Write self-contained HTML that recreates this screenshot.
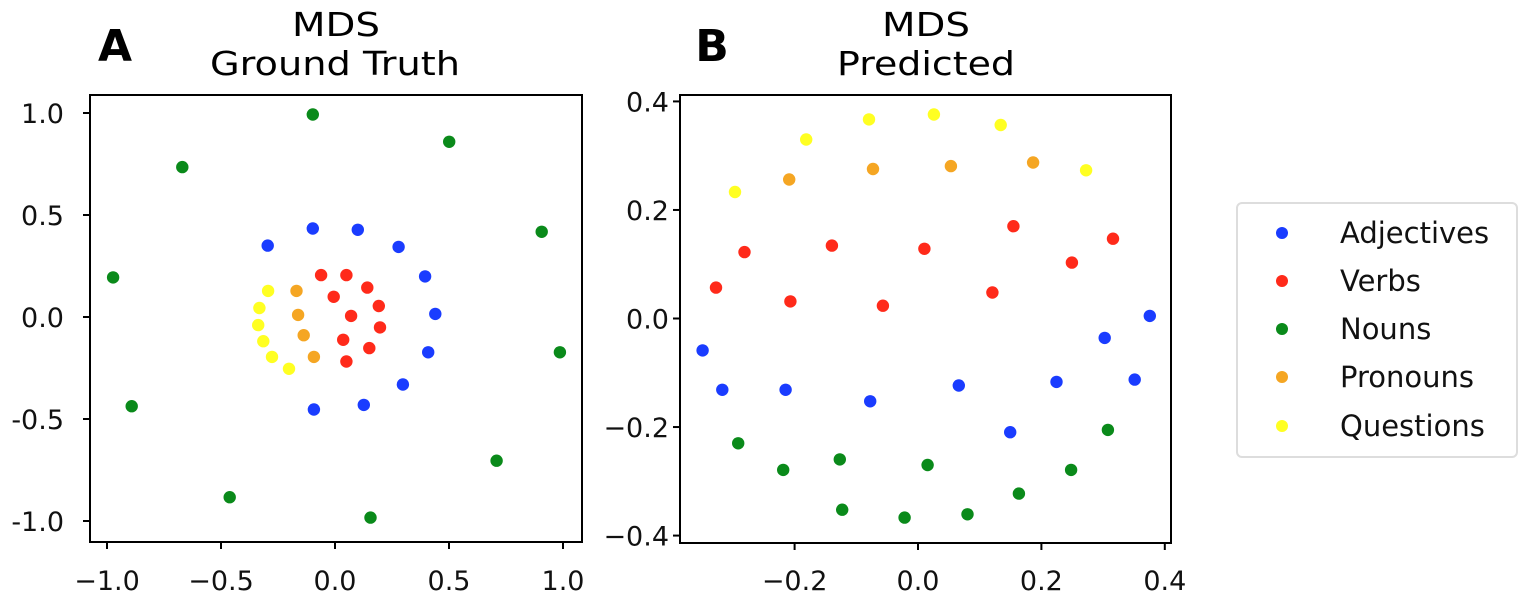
<!DOCTYPE html>
<html><head><meta charset="utf-8"><style>
html,body{margin:0;padding:0;background:#fff}
svg{display:block;font-family:"DejaVu Sans","Liberation Sans",sans-serif}
</style></head><body>
<svg id="s" width="1522" height="595" viewBox="0 0 1522 595" xmlns="http://www.w3.org/2000/svg">
<rect width="1522" height="595" fill="#fff"/>
<text x="115" y="61" font-size="44" font-weight="bold" text-anchor="middle">A</text>
<text x="712" y="61" font-size="44" font-weight="bold" text-anchor="middle">B</text>
<text x="336" y="36" font-size="33" text-anchor="middle" textLength="88" lengthAdjust="spacingAndGlyphs">MDS</text>
<text x="335" y="75" font-size="33" text-anchor="middle" textLength="250" lengthAdjust="spacingAndGlyphs">Ground Truth</text>
<text x="926" y="36" font-size="33" text-anchor="middle" textLength="88" lengthAdjust="spacingAndGlyphs">MDS</text>
<text x="926" y="75" font-size="33" text-anchor="middle" textLength="178" lengthAdjust="spacingAndGlyphs">Predicted</text>
<g fill="none" stroke="#000" stroke-width="2">
<rect x="90" y="95" width="492" height="447"/>
<rect x="680" y="95" width="491" height="448"/>
</g>
<g id="ticks" stroke="#000" stroke-width="2"></g>
<g id="labels" font-size="27" fill="#111"></g>
<g id="pts"></g>
<rect x="1237" y="203" width="280" height="254" rx="5" fill="#fff" stroke="#ddd" stroke-width="2"/>
<g font-size="29" fill="#111">
<circle cx="1282" cy="233" r="6" fill="#1a3cff"/><text x="1340" y="243">Adjectives</text>
<circle cx="1282" cy="281" r="6" fill="#ff2a1a"/><text x="1340" y="291">Verbs</text>
<circle cx="1282" cy="329" r="6" fill="#0a8a1a"/><text x="1340" y="339">Nouns</text>
<circle cx="1282" cy="377" r="6" fill="#f5a623"/><text x="1340" y="387">Pronouns</text>
<circle cx="1282" cy="426" r="6" fill="#ffff22"/><text x="1340" y="436">Questions</text>
</g>
</svg>
<script>
var NS="http://www.w3.org/2000/svg";
function el(p,t,a,txt){var e=document.createElementNS(NS,t);for(var k in a)e.setAttribute(k,a[k]);if(txt)e.textContent=txt;document.getElementById(p).appendChild(e);}
var C={b:"#1a3cff",r:"#ff2a1a",g:"#0a8a1a",o:"#f5a623",y:"#ffff22"};
var L={g:[[791,105],[1136,188],[461,265],[1370,462],[286,601],[1416,829],[333,993],[1256,1159],[581,1270],[937,1332]],
b:[[791,452],[905,456],[677,504],[1008,508],[1075,598],[1101,712],[1083,829],[1019,927],[920,989],[794,1003]],
r:[[812,594],[876,594],[929,632],[844,660],[958,688],[888,718],[961,753],[868,791],[934,816],[876,857]],
o:[[750,642],[754,715],[768,777],[794,843]],
y:[[678,642],[656,694],[653,746],[666,795],[688,843],[731,879]]};
var R={y:[[731,120],[895,105],[1064,137],[572,181],[392,341],[1280,275]],
o:[[529,303],[741,271],[938,262],[1146,251]],
r:[[1096,445],[1348,483],[416,524],[637,504],[871,514],[1244,556],[344,632],[532,674],[766,687],[1043,647]],
b:[[1441,718],[310,823],[1327,785],[360,943],[520,943],[734,978],[958,930],[1205,919],[1403,912],[1088,1072]],
g:[[1335,1065],[400,1106],[657,1155],[514,1187],[879,1172],[1242,1187],[1110,1259],[663,1308],[821,1332],[980,1322]]};
function plot(D,ox){for(var k in D)D[k].forEach(function(p){el("pts","circle",{cx:(ox+p[0]*0.3954).toFixed(1),cy:(80+p[1]*0.3285).toFixed(1),r:6.2,fill:C[k]});});}
plot(L,0);plot(R,580);
[-1,-0.5,0,0.5,1].forEach(function(v){
 var x=335+228*v,y=317-204*v;
 var lab=(v<0?"\u2212":"")+Math.abs(v).toFixed(1);
 el("ticks","line",{x1:x,y1:542,x2:x,y2:549});
 el("labels","text",{x:x,y:590,"text-anchor":"middle"},lab);
 el("ticks","line",{x1:83,y1:y,x2:90,y2:y});
 el("labels","text",{x:64,y:y+10,"text-anchor":"end"},(v<0?"-":"")+Math.abs(v).toFixed(1));
});
[-0.4,-0.2,0,0.2,0.4].forEach(function(v){
 var y=318.5-542.7*v;
 el("ticks","line",{x1:673,y1:y,x2:680,y2:y});
 el("labels","text",{x:669,y:y+10,"text-anchor":"end"},(v<0?"\u2212":"")+Math.abs(v).toFixed(1));
});
[-0.2,0,0.2,0.4].forEach(function(v){
 var x=918+617*v;
 el("ticks","line",{x1:x,y1:543,x2:x,y2:550});
 el("labels","text",{x:x,y:590,"text-anchor":"middle"},(v<0?"\u2212":"")+Math.abs(v).toFixed(1));
});
</script>
</body></html>
